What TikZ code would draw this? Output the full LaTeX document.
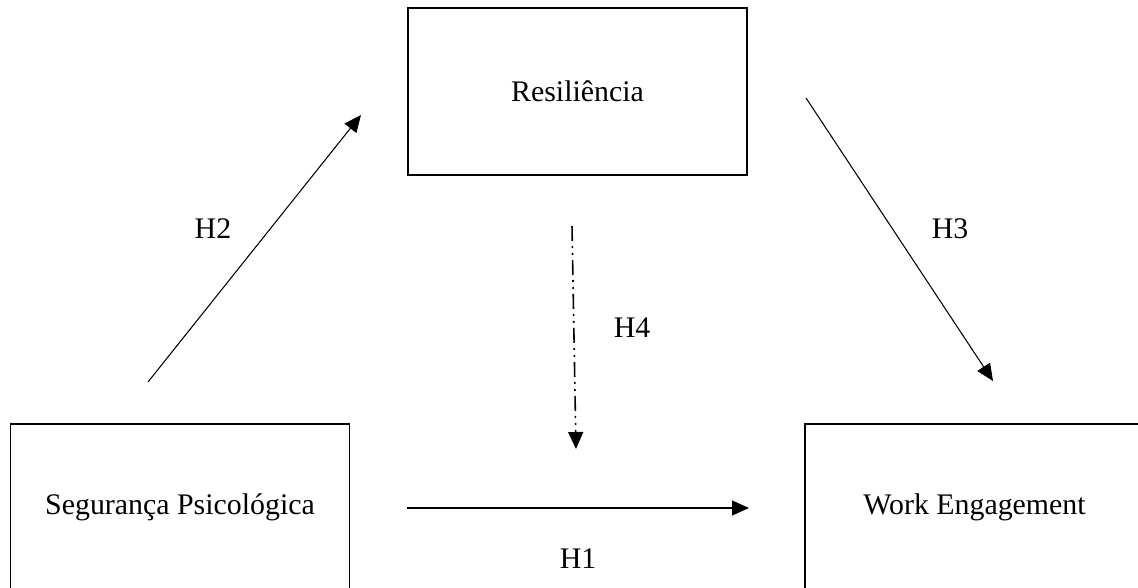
\documentclass[tikz,border=0pt]{standalone}
\usepackage{fontspec}
\setmainfont{Liberation Serif}
\usetikzlibrary{positioning,arrows.meta}

\begin{document}
\begin{tikzpicture}[
    box/.style={
        rectangle,
        draw=black,
        line width=0.6pt,
        minimum width=6.78cm,
        minimum height=3.34cm,
        inner sep=0pt,
        align=center,
        font=\fontsize{17}{20}\selectfont
    },
    link/.style={-{Triangle[length=0.34cm,width=0.3cm]}, line width=0.6pt},
    moderation/.style={link, line width=0.9pt, dash pattern=on 0.3cm off 0.1cm on 0.04cm off 0.1cm on 0.04cm off 0.1cm},
    hyp/.style={font=\fontsize{17}{20}\selectfont}
]
    \useasboundingbox (0,0) rectangle (22.76,-11.76);

    % Blocks
    \node[box] (res) at (11.55,-1.83) {Resiliência};
    \node[box] (seg) at (3.6,-10.15) {Segurança Psicológica};
    \node[box] (work) at (19.49,-10.15) {Work Engagement};

    % Arrow ends
    \coordinate (h2s) at (2.96,-7.64);
    \coordinate (h2e) at (7.22,-2.30);
    \coordinate (h3s) at (16.12,-1.96);
    \coordinate (h3e) at (19.86,-7.62);
    \coordinate (h4s) at (11.44,-4.52);
    \coordinate (h4e) at (11.52,-8.98);
    \coordinate (h1s) at (8.14,-10.16);
    \coordinate (h1e) at (14.98,-10.16);

    % Arrows
    \draw[link] (h2s) -- (h2e);
    \draw[link] (h3s) -- (h3e);
    \draw[moderation] (h4s) -- (h4e);
    \draw[link] (h1s) -- (h1e);

    % Labels
    \node[hyp] (lh2) at (4.26,-4.58) {H2};
    \node[hyp] (lh3) at (19.0,-4.58) {H3};
    \node[hyp] (lh4) at (12.64,-6.56) {H4};
    \node[hyp] (lh1) at (11.56,-11.18) {H1};
\end{tikzpicture}
\end{document}
